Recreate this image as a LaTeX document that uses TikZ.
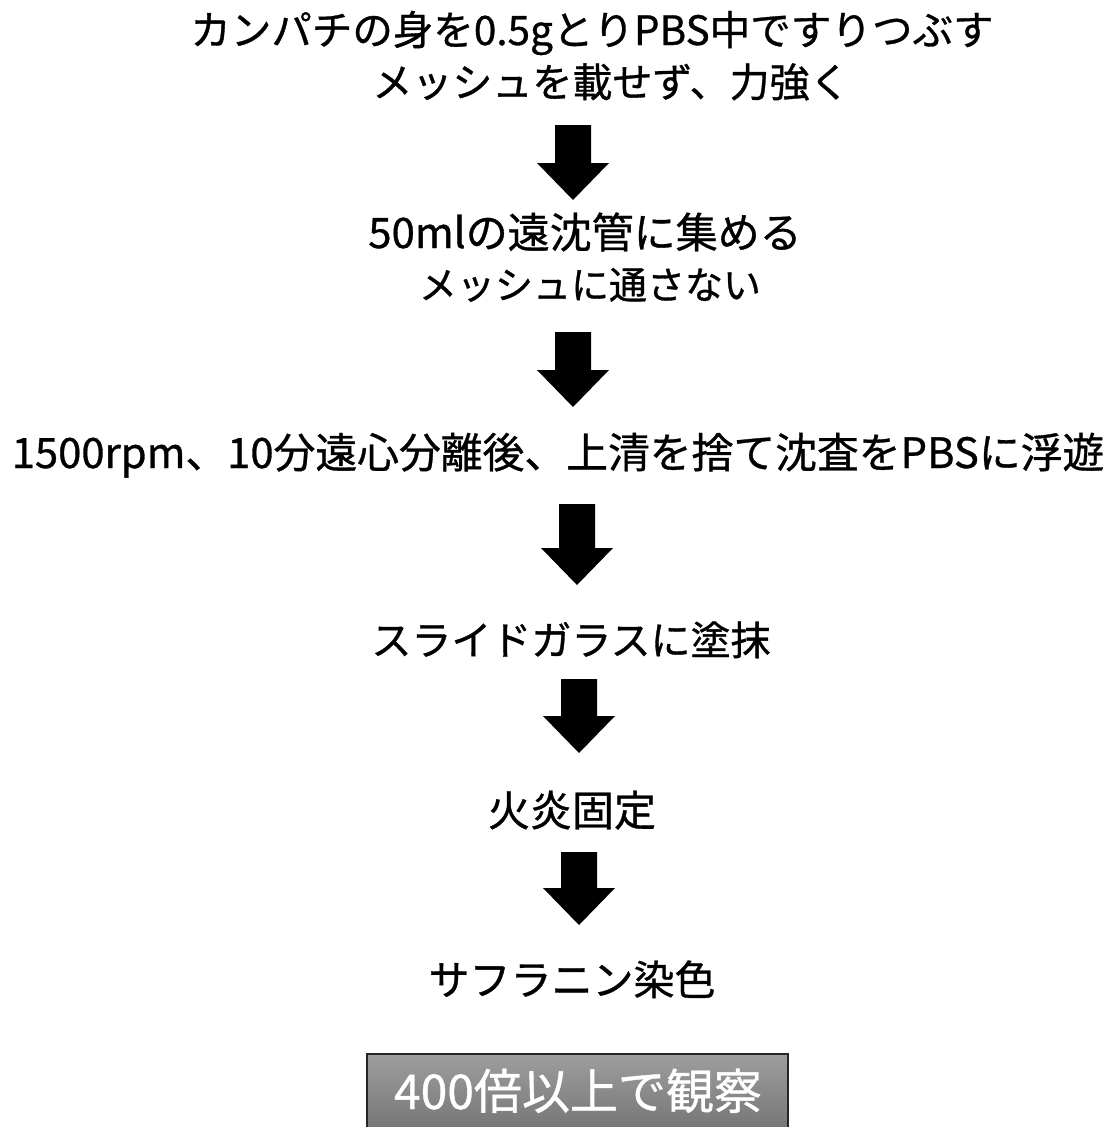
\documentclass[tikz,border=0pt]{standalone}
\usepackage{fontspec}
\setmainfont{Noto Sans CJK JP}[FakeBold=0.8]
\begin{document}
\begin{tikzpicture}[x=1pt,y=-1pt,
  stepnode/.style={inner sep=0pt, anchor=base, text=black},
  arrowfill/.style={fill=black},
  resultbox/.style={draw=black!85, line width=1.2pt, top color=black!38, bottom color=black!56}]
\useasboundingbox (0,0) rectangle (1118,1127);
\clip (0,0) rectangle (1118,1127);
\newcommand\blockarrow[3]{%
  \fill[arrowfill] (#1-18,#2) -- (#1+18,#2) -- (#1+18,#3-37) -- (#1+36,#3-37) -- (#1,#3) -- (#1-36,#3-37) -- (#1-18,#3-37) -- cycle;}
\node[stepnode, font=\fontsize{40.5}{48}\selectfont] (t1) at (592,45) {カンパチの身を0.5gとりPBS中ですりつぶす};
\node[stepnode, font=\fontsize{40}{46}\selectfont] (t2) at (611,97) {メッシュを載せず、力強く};
\blockarrow{573}{125}{200}
\node[stepnode, font=\fontsize{42}{48}\selectfont] (t3) at (585,248) {50mlの遠沈管に集める};
\node[stepnode, font=\fontsize{38}{46}\selectfont] (t4) at (590,299) {メッシュに通さない};
\blockarrow{573}{332}{407}
\node[stepnode, font=\fontsize{41.8}{48}\selectfont] (t5) at (558,468) {1500rpm、10分遠心分離後、上清を捨て沈査をPBSに浮遊};
\blockarrow{577}{504}{585}
\node[stepnode, font=\fontsize{40}{48}\selectfont] (t6) at (571,655) {スライドガラスに塗抹};
\blockarrow{579}{679}{753}
\node[stepnode, font=\fontsize{42}{48}\selectfont] (t7) at (572,826) {火炎固定};
\blockarrow{579}{852}{925}
\node[stepnode, font=\fontsize{41}{48}\selectfont] (t8) at (572,995) {サフラニン染色};
\path[resultbox] (367,1054) rectangle (788,1140);
\node[stepnode, text=white, font=\fontsize{48}{56}\selectfont] (t9) at (578,1109) {400倍以上で観察};
\end{tikzpicture}
\end{document}
